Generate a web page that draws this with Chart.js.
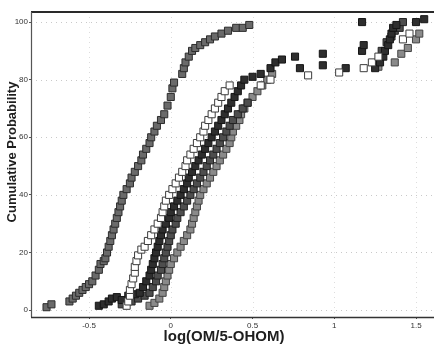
<!DOCTYPE html>
<html>
<head>
<meta charset="utf-8">
<script src="https://cdn.jsdelivr.net/npm/chart.js@4.4.1/dist/chart.umd.min.js"></script>
<style>
  html, body { margin: 0; padding: 0; background: #fff; }
</style>
</head>
<body>
<canvas id="chart" width="440" height="347"></canvas>
<script>
const xTicks = [-0.5, 0, 0.5, 1, 1.5];
const yTicks = [0, 20, 40, 60, 80, 100];
const xTitle = 'log(OM/5-OHOM)';
const yTitle = 'Cumulative Probability';

// gray series (left curve)
const aX = [-0.76,-0.73,-0.62,-0.60,-0.58,-0.56,-0.54,-0.52,-0.50,-0.48,-0.46,-0.44,-0.43,-0.41,-0.40,-0.39,-0.38,-0.37,-0.36,-0.35,-0.34,-0.33,-0.32,-0.31,-0.30,-0.29,-0.27,-0.25,-0.24,-0.22,-0.20,-0.18,-0.17,-0.15,-0.13,-0.12,-0.10,-0.085,-0.06,-0.04,-0.02,0.00,0.01,0.02,0.07,0.08,0.09,0.11,0.13,0.15,0.18,0.21,0.24,0.27,0.31,0.35,0.40,0.44,0.48];
const aY = [1,2,3,4,5,6,7,8,9,10,12,14,16,17,18,20,22,24,26,28,30,32,34,36,38,40,42,44,46,48,50,52,54,56,58,60,62,64,66,68,71,74,77,79,82,84,86,88,90,91,92,93,94,95,96,97,98,98,99];

// open squares
const bX = [-0.27,-0.26,-0.25,-0.25,-0.24,-0.23,-0.22,-0.22,-0.21,-0.20,-0.18,-0.16,-0.14,-0.12,-0.10,-0.08,-0.06,-0.05,-0.04,-0.03,-0.01,0.01,0.03,0.05,0.07,0.09,0.10,0.12,0.14,0.16,0.18,0.20,0.21,0.23,0.25,0.27,0.29,0.31,0.33,0.36,0.55,0.61,0.84,1.03,1.18,1.23,1.27,1.42,1.46];
const bY = [1.5,3,5,7,9,11,13,15,17,19,21,22,24,26,28,30,32,34,36,38,40,42,44,46,48,50,52,54,56,58,60,62,64,66,68,70,72,74,76,78,78,80,81.5,82.5,84,86,88,94,96];

// dark series
const cX = [-0.44,-0.41,-0.38,-0.36,-0.33,-0.30,-0.26,-0.22,-0.19,-0.17,-0.15,-0.13,-0.12,-0.11,-0.10,-0.09,-0.08,-0.07,-0.06,-0.05,-0.03,-0.01,0.00,0.02,0.04,0.06,0.08,0.10,0.11,0.13,0.15,0.17,0.19,0.21,0.23,0.25,0.27,0.29,0.31,0.33,0.35,0.37,0.39,0.41,0.43,0.45,0.50,0.55,0.61,0.64,0.68,0.76,0.79,0.93,0.93,1.07,1.17,1.18,1.17,1.25,1.28,1.30,1.31,1.33,1.34,1.35,1.36,1.38,1.50,1.55];
const cY = [1.5,2,3,4,4.5,3.5,5,5.5,6,8,10,12,14,16,18,20,22,24,26,28,30,32,34,36,38,40,42,44,46,48,50,52,54,56,58,60,62,64,66,68,70,72,74,76,78,80,81,82,84,86,87,88,84,89,85,84,90,92,100,84,86,88,90,92,94,96,98,99,100,101];

// dark gray series (between dark and light)
const eX = [-0.30,-0.24,-0.20,-0.16,-0.13,-0.11,-0.09,-0.08,-0.06,-0.05,-0.04,-0.03,-0.02,-0.01,0.00,0.01,0.03,0.04,0.06,0.08,0.10,0.12,0.14,0.16,0.18,0.20,0.22,0.24,0.26,0.28,0.30,0.32,0.34,0.36,0.38,0.41,0.44,0.47,1.29,1.32,1.35,1.37,1.40,1.42];
const eY = [2,3,4,5,6,8,10,12,14,16,18,20,22,24,26,28,30,32,34,36,38,40,42,44,46,48,50,52,54,56,58,60,62,64,66,68,70,72,90,93,95,97,98,100];

// light gray series (right curve)
const dX = [-0.13,-0.10,-0.07,-0.05,-0.04,-0.03,-0.02,-0.01,0.00,0.02,0.04,0.06,0.08,0.10,0.12,0.13,0.14,0.15,0.16,0.17,0.18,0.20,0.22,0.24,0.26,0.28,0.30,0.32,0.34,0.36,0.37,0.38,0.40,0.42,0.43,0.45,0.47,0.50,0.53,0.56,0.59,0.62,1.27,1.37,1.41,1.45,1.50,1.52];
const dY = [1.5,2.5,4,6,8,10,12,14,16,18,20,22,24,26,28,30,32,34,36,38,40,42,44,46,48,50,52,54,56,58,60,62,64,66,68,70,72,74,76,78,80,82,84.5,86,89,91,94,96];

const pts = (xs, ys) => xs.map((x, i) => ({ x: x, y: ys[i] }));

const series = (label, xs, ys, fill, edge) => ({
    label: label,
    data: pts(xs, ys),
    pointStyle: 'rect',
    pointRadius: 5,
    pointHoverRadius: 5,
    borderWidth: 1,
    backgroundColor: fill,
    borderColor: edge,
    showLine: false
});

const frame = {
    id: 'frame',
    beforeDatasetsDraw(chart) {
        const { ctx, chartArea: a, scales: { x, y } } = chart;
        ctx.save();
        ctx.lineWidth = 1;
        ctx.setLineDash([1, 4]);
        ctx.strokeStyle = 'rgba(120,120,120,0.4)';
        yTicks.forEach(v => {
            const py = Math.round(y.getPixelForValue(v)) + 0.5;
            ctx.beginPath();
            ctx.moveTo(a.left, py);
            ctx.lineTo(a.right, py);
            ctx.stroke();
        });
        ctx.strokeStyle = 'rgba(120,120,120,0.25)';
        xTicks.forEach(v => {
            const px = Math.round(x.getPixelForValue(v)) + 0.5;
            ctx.beginPath();
            ctx.moveTo(px, a.top);
            ctx.lineTo(px, a.bottom);
            ctx.stroke();
        });
        ctx.restore();
    },
    afterDraw(chart) {
        const { ctx, chartArea: a } = chart;
        ctx.save();
        // frame
        ctx.strokeStyle = '#2a2a2a';
        ctx.lineWidth = 2;
        ctx.beginPath();
        ctx.moveTo(a.left, a.top);
        ctx.lineTo(a.right, a.top);
        ctx.stroke();
        ctx.lineWidth = 1.2;
        ctx.strokeStyle = '#555';
        ctx.beginPath();
        ctx.moveTo(a.left + 0.5, a.top);
        ctx.lineTo(a.left + 0.5, a.bottom);
        ctx.stroke();
        ctx.lineWidth = 1.5;
        ctx.strokeStyle = '#333';
        ctx.beginPath();
        ctx.moveTo(a.left, a.bottom + 0.5);
        ctx.lineTo(a.right, a.bottom + 0.5);
        ctx.stroke();
        // axis titles
        ctx.fillStyle = '#1e1e1e';
        ctx.textAlign = 'center';
        ctx.textBaseline = 'middle';
        ctx.font = 'bold 15px "Liberation Sans", Arial, sans-serif';
        ctx.fillText(xTitle, 224, 337);
        ctx.translate(12, 152);
        ctx.rotate(-Math.PI / 2);
        ctx.font = 'bold 13px "Liberation Sans", Arial, sans-serif';
        ctx.fillText(yTitle, 0, 0);
        ctx.restore();
    }
};

const tickFont = { family: '"Liberation Sans", Arial, sans-serif', size: 8 };

new Chart(document.getElementById('chart'), {
    type: 'scatter',
    data: {
        datasets: [
            series('open', bX, bY, '#ffffff', '#3c3c3c'),
            series('dark', cX, cY, '#2e2e2e', '#151515'),
            series('darkgray', eX, eY, '#4e4e4e', '#222222'),
            series('light', dX, dY, '#8a8a8a', '#444444'),
            series('gray', aX, aY, '#6a6a6a', '#2c2c2c')
        ]
    },
    options: {
        responsive: false,
        animation: false,
        layout: { padding: { left: 0, right: 2, top: 12, bottom: 0 } },
        plugins: {
            legend: { display: false },
            tooltip: { enabled: false }
        },
        scales: {
            x: {
                type: 'linear',
                min: -0.855,
                max: 1.61,
                afterBuildTicks: s => { s.ticks = xTicks.map(v => ({ value: v })); },
                afterFit: s => { s.height = 30; },
                grid: { drawOnChartArea: false, drawTicks: true, tickLength: 2, color: '#555' },
                border: { display: false },
                ticks: { font: tickFont, color: '#333', padding: 2, maxRotation: 0, callback: v => String(v) }
            },
            y: {
                min: -2.4,
                max: 103.5,
                afterBuildTicks: s => { s.ticks = yTicks.map(v => ({ value: v })); },
                afterFit: s => { s.width = 31; },
                grid: { drawOnChartArea: false, drawTicks: true, tickLength: 2, color: '#555' },
                border: { display: false },
                ticks: { font: tickFont, color: '#333', padding: 1, callback: v => String(v) }
            }
        }
    },
    plugins: [frame]
});
</script>
</body>
</html>
